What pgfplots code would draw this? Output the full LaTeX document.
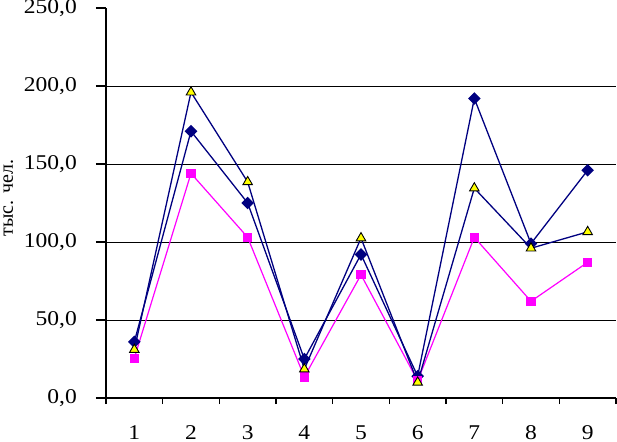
\documentclass[border=0pt]{standalone}
\usepackage{pgfplots}
\pgfplotsset{compat=1.18}
\usepackage{fontspec}
\setmainfont{Liberation Serif}
\newfontfamily\tickfont{Liberation Serif}[FakeStretch=1.12]
\definecolor{navy}{RGB}{0,0,128}
\definecolor{mag}{RGB}{255,0,255}
\definecolor{yel}{RGB}{255,255,0}

\begin{document}
\begin{tikzpicture}
\begin{axis}[
    scale only axis, width=510bp, height=390bp,
    xmin=0.5, xmax=9.5, ymin=0, ymax=250,
    axis x line*=bottom, axis y line*=left,
    axis line style={-, line width=1.1bp},
    tick align=outside,
    xtick={1,...,9},
    minor xtick={0.5,1.5,...,9.5},
    major x tick style={draw=none},
    minor x tick style={line width=1.1bp, black},
    minor tick length=6bp,
    major tick length=10bp,
    ytick={0,50,100,150,200},
    extra y ticks={250},
    extra y tick style={grid=none},
    xticklabel={\pgfmathprintnumber[assume math mode=true]{\tick}},
    yticklabel={\pgfmathprintnumber[fixed, fixed zerofill, precision=1, use comma, assume math mode=true]{\tick}},
    ymajorgrids, major grid style={black, line width=0.9bp},
    major y tick style={line width=1.1bp, black},
    ticklabel style={font=\tickfont\fontsize{21bp}{23bp}\selectfont},
    xticklabel style={yshift=-14bp},
    yticklabel style={inner sep=1bp, xshift=-18bp},
    clip=false,
]
\coordinate (O) at (rel axis cs:0,0);
\addplot[navy, line width=1.3bp, mark=square*, mark options={rotate=45, fill=navy, mark size=3.8bp, solid}]
  coordinates {(1,36)(2,171)(3,125)(4,25)(5,92)(6,14)(7,192)(8,99)(9,146)};
\addplot[mag, line width=1.2bp, mark=square*, mark options={fill=mag, mark size=4bp}]
  coordinates {(1,25.5)(2,144)(3,103)(4,13.5)(5,79)(6,11)(7,103)(8,62)(9,87)};
\addplot[navy, line width=1.3bp, mark=triangle*, mark options={fill=yel, draw=black, line width=0.9bp, mark size=5.5bp}]
  coordinates {(1,31)(2,196)(3,138.5)(4,18.5)(5,102.5)(6,10)(7,134.5)(8,96)(9,106.5)};
\end{axis}
\node[rotate=90, anchor=base, font=\fontsize{20bp}{22bp}\selectfont] at ([shift={(-93bp,200bp)}]O) {тыс. чел.};
\pgfresetboundingbox
\path ([shift={(-106bp,-44bp)}]O) rectangle ([shift={(511bp,398bp)}]O);
\end{tikzpicture}
\end{document}
